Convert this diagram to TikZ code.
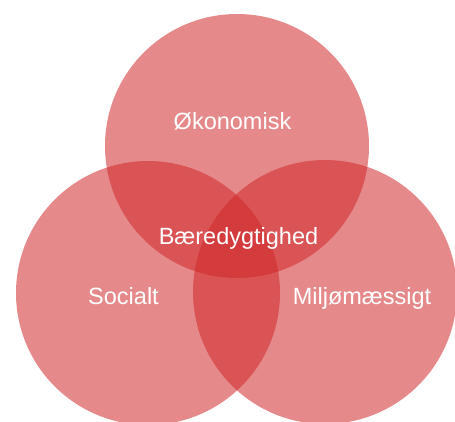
\documentclass[tikz,border=0pt]{standalone}
\usepackage{fontspec}
\setmainfont{Liberation Sans}
\definecolor{vennred}{RGB}{208,40,42}
\begin{document}
\begin{tikzpicture}[x=1pt,y=-1pt,
  ring/.style={fill=vennred,fill opacity=0.55,draw=none},
  lbl/.style={text=white,font=\fontsize{23.5}{28}\selectfont,anchor=base,inner sep=0pt}]
\useasboundingbox (0,0) rectangle (455,421);
\clip (0,0) rectangle (455,421);
\fill[ring] (237,146) circle[radius=132pt];
\fill[ring] (148,293) circle[radius=132pt];
\fill[ring] (325,292) circle[radius=132pt];
\node[lbl] (oko) at (232.5,129) {Økonomisk};
\node[lbl] (bae) at (238.5,244) {Bæredygtighed};
\node[lbl] (soc) at (123.5,304) {Socialt};
\node[lbl] (mil) at (362,304) {Miljømæssigt};
\end{tikzpicture}
\end{document}
